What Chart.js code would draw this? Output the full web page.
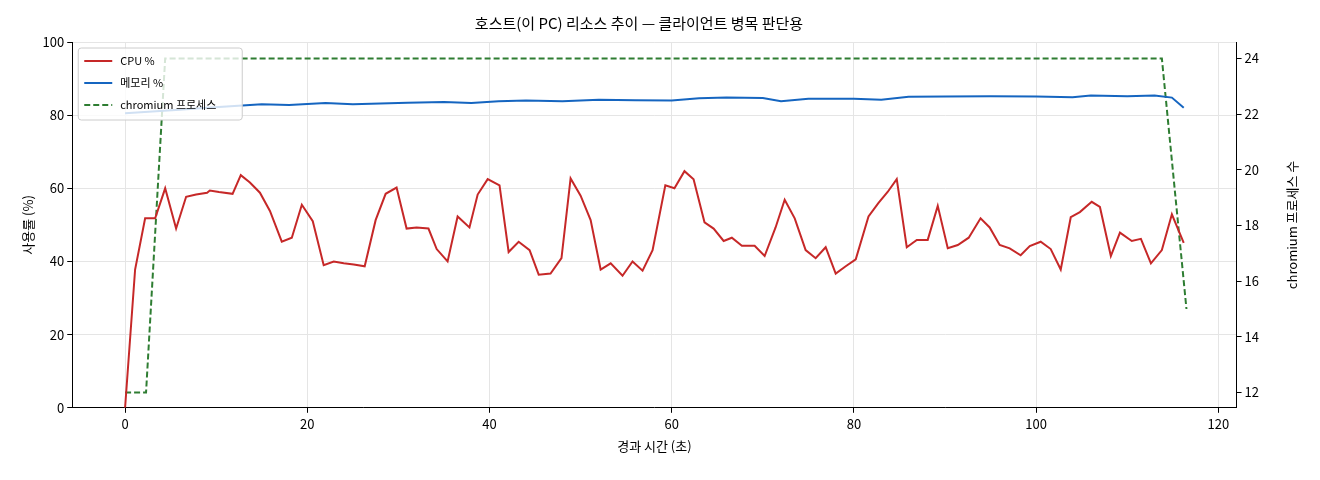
<!DOCTYPE html>
<html><head><meta charset="utf-8">
<script src="https://cdn.jsdelivr.net/npm/chart.js@4"></script>
<style>html,body{margin:0;background:#fff}#w{width:1320px;height:480px}</style>
</head><body><div id="w"><canvas id="c"></canvas></div>
<script>
const cpuTime=[0,1.1,2.2,3.3,4.4,5.6,6.7,7.8,9.0,9.3,10.3,11.8,12.7,13.7,14.8,15.9,17.2,18.3,19.4,20.6,21.8,22.9,24.0,25.1,26.3,27.5,28.6,29.8,30.9,32.0,33.3,34.2,35.4,36.5,37.8,38.7,39.8,41.1,42.1,43.2,44.4,45.4,46.7,47.9,48.9,50.0,51.1,52.2,53.3,54.6,55.7,56.8,57.9,59.3,60.3,61.4,62.4,63.6,64.6,65.7,66.6,67.7,69.1,70.2,71.4,72.4,73.5,74.7,75.8,76.9,78.0,79.1,80.2,81.6,82.7,83.7,84.7,85.8,86.9,88.1,89.2,90.3,91.4,92.6,93.9,94.9,96.0,97.1,98.3,99.3,100.5,101.6,102.7,103.8,104.8,106.1,107.0,108.2,109.2,110.5,111.5,112.6,113.8,114.9,116.2];
const cpuPct=[0,37.8,51.8,51.8,60,49,57.7,58.3,58.8,59.4,59,58.5,63.6,61.6,58.8,53.8,45.4,46.5,55.5,51,39,40,39.5,39.2,38.7,51.3,58.5,60.2,49,49.3,49,43.4,40,52.3,49.3,58.3,62.5,60.8,42.6,45.4,43.1,36.4,36.7,40.9,62.7,58,51.3,37.8,39.5,36.1,40,37.5,43.1,60.8,60,64.7,62.5,50.7,49,45.6,46.5,44.3,44.3,41.5,49.3,56.9,51.8,43.1,40.9,43.9,36.7,38.7,40.6,52.3,56,59,62.5,43.9,45.9,45.9,55.2,43.6,44.5,46.5,51.8,49.3,44.5,43.6,41.7,44.2,45.4,43.4,37.8,52.1,53.5,56.3,54.9,41.5,47.9,45.6,46.2,39.5,43.1,52.9,45.1];
const memTime=[0,3,6,9,12,15,18,22,25,28,31,35,38,41,44,48,52,56,60,63,66,70,72,75,80,83,86,90,95,100,104,106,110,113,114.9,116.2];
const memPct=[80.5,81,81.5,82,82.5,83,82.8,83.3,83,83.2,83.4,83.6,83.3,83.8,84,83.8,84.2,84.1,84,84.6,84.8,84.7,83.8,84.5,84.5,84.2,85,85.1,85.2,85.1,84.9,85.4,85.2,85.4,84.8,82];
const procTime=[0,2.3,4.4,113.8,116.5];
const procCount=[12,12,24,24,15];
const F='"Noto Sans CJK KR","DejaVu Sans",sans-serif';
const xy=(xs,ys)=>xs.map((x,i)=>({x,y:ys[i]}));
const extras={id:'extras',afterDraw(c){
  const ctx=c.ctx,a=c.chartArea;ctx.save();
  // legend box
  const x0=a.left+6,y0=a.top+6,w=164,h=72;
  ctx.fillStyle='rgba(255,255,255,0.8)';ctx.strokeStyle='#ccc';ctx.lineWidth=1;
  ctx.beginPath();ctx.roundRect(x0,y0,w,h,3);ctx.fill();ctx.stroke();
  ctx.font='11px '+F;ctx.textBaseline='middle';
  c.data.datasets.forEach((d,i)=>{const y=y0+13+i*22;
    ctx.strokeStyle=d.borderColor;ctx.lineWidth=2;ctx.setLineDash(d.borderDash||[]);
    ctx.beginPath();ctx.moveTo(x0+6,y);ctx.lineTo(x0+34,y);ctx.stroke();ctx.setLineDash([]);
    ctx.fillStyle='#000';ctx.fillText(d.label,x0+42,y);});
  // right axis title rotated bottom-to-top
  ctx.translate(1292,(a.top+a.bottom)/2);ctx.rotate(-Math.PI/2);
  ctx.textAlign='center';ctx.font='13px '+F;ctx.fillStyle='#000';ctx.fillText('chromium 프로세스 수',0,0);
  ctx.restore();}};
new Chart(document.getElementById('c'),{type:'line',
data:{datasets:[
{label:'CPU %',data:xy(cpuTime,cpuPct),borderColor:'#c62828',backgroundColor:'#c62828',borderWidth:2,pointRadius:0,yAxisID:'y'},
{label:'메모리 %',data:xy(memTime,memPct),borderColor:'#1565c0',backgroundColor:'#1565c0',borderWidth:2,pointRadius:0,yAxisID:'y'},
{label:'chromium 프로세스',data:xy(procTime,procCount),borderColor:'#2e7d32',backgroundColor:'#2e7d32',borderWidth:2,borderDash:[6,3],pointRadius:0,yAxisID:'y2'}]},
plugins:[extras],
options:{responsive:true,maintainAspectRatio:false,animation:false,
layout:{padding:{left:16,right:58,top:6,bottom:22}},
plugins:{title:{display:true,text:'호스트(이 PC) 리소스 추이 — 클라이언트 병목 판단용',font:{family:F,size:15,weight:'normal'},color:'#000',padding:{top:8,bottom:10}},
legend:{display:false},tooltip:{enabled:false}},
scales:{
x:{type:'linear',min:-5.8,max:122,afterBuildTicks:a=>{a.ticks=[0,20,40,60,80,100,120].map(v=>({value:v}))},
title:{display:true,text:'경과 시간 (초)',font:{family:F,size:13},color:'#000'},ticks:{font:{family:F,size:13},color:'#000'},grid:{color:'#e5e5e5',tickColor:'#000',tickLength:5},border:{color:'#000'}},
y:{min:0,max:100,position:'left',title:{display:true,text:'사용률 (%)',font:{family:F,size:13},color:'#000'},ticks:{stepSize:20,font:{family:F,size:13},color:'#000'},grid:{color:'#e5e5e5',tickColor:'#000',tickLength:5},border:{color:'#000'}},
y2:{min:11.45,max:24.59,position:'right',afterBuildTicks:a=>{a.ticks=[12,14,16,18,20,22,24].map(v=>({value:v}))},ticks:{font:{family:F,size:13},color:'#000'},grid:{display:true,tickColor:'#000',tickLength:5,drawOnChartArea:false},border:{color:'#000'}}
}}});
</script></body></html>
